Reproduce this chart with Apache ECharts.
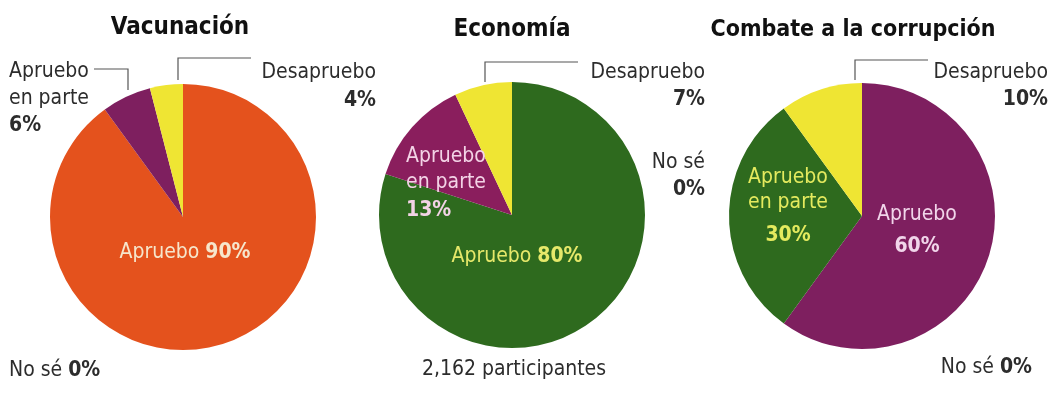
<!DOCTYPE html>
<html>
<head>
<meta charset="utf-8">
<script src="https://cdn.jsdelivr.net/npm/echarts@6/dist/echarts.min.js"></script>
<style>
html,body{margin:0;padding:0;background:#fff;}
#c{width:1052px;height:394px;}
</style>
</head>
<body>
<div id="c"></div>
<script>
const titles = ['Vacunación', 'Economía', 'Combate a la corrupción'];
const categories = ['Apruebo', 'No sé', 'Apruebo en parte', 'Desapruebo'];
const vacunacion = [90, 0, 6, 4];
const economia = [80, 0, 13, 7];
const combate = [60, 0, 30, 10];
const note = '2,162 participantes';

const C = {
  orange: '#E4521D', purple: '#7E1F5F', purple2: '#8A1E5D', yellow: '#EFE533',
  green: '#2E6A1E', blue: '#3A6FB0'
};
const pieColors = [
  [C.orange, C.blue, C.purple, C.yellow],
  [C.green, C.blue, C.purple2, C.yellow],
  [C.purple, C.blue, C.green, C.yellow]
];
const allData = [vacunacion, economia, combate];
const centers = [[183, 217], [512, 215], [862, 216]];
const R = 133;

const FONT = '"DejaVu Sans Condensed", "Liberation Sans Narrow", sans-serif';
const dark = '#2c2c2c';
const FS = 21;

function txt(x, y, text, opts) {
  opts = opts || {};
  return {
    type: 'text', x: x, y: y, silent: true, z: 10,
    style: {
      text: text, fill: opts.fill || dark,
      font: (opts.bold ? 'bold ' : '') + (opts.size || FS) + 'px ' + FONT,
      textAlign: opts.align || 'left', textVerticalAlign: 'middle'
    }
  };
}
function line(points) {
  return { type: 'polyline', silent: true, z: 10,
    shape: { points: points }, style: { stroke: '#555', lineWidth: 1.2, fill: null } };
}
function riched(x, y, name, val, color, size, align) {
  return {
    type: 'text', x: x, y: y, silent: true, z: 10,
    style: {
      text: '{a|' + name + ' }{b|' + val + '%}',
      rich: {
        a: { fill: color, font: size + 'px ' + FONT },
        b: { fill: color, font: 'bold ' + size + 'px ' + FONT }
      },
      textAlign: align, textVerticalAlign: 'middle'
    }
  };
}

const series = allData.map((vals, i) => ({
  type: 'pie',
  center: centers[i],
  radius: [0, R],
  startAngle: 90,
  clockwise: true,
  label: { show: false },
  labelLine: { show: false },
  emphasis: { disabled: true },
  silent: true,
  itemStyle: { borderWidth: 0 },
  data: categories.map((c, k) => ({ name: c, value: vals[k], itemStyle: { color: pieColors[i][k] } }))
}));

const g = [];
// titles
g.push(txt(180, 28, titles[0], { bold: true, size: 24, align: 'center', fill: '#111' }));
g.push(txt(512, 30, titles[1], { bold: true, size: 24, align: 'center', fill: '#111' }));
g.push(txt(853, 30, titles[2], { bold: true, size: 23, align: 'center', fill: '#111' }));

// Vacunación
g.push(txt(9, 72, 'Apruebo'));
g.push(txt(9, 99, 'en parte'));
g.push(txt(9, 126, vacunacion[2] + '%', { bold: true }));
g.push(txt(376, 73, categories[3], { align: 'right' }));
g.push(txt(376, 101, vacunacion[3] + '%', { bold: true, align: 'right' }));
g.push(riched(9, 371, categories[1], vacunacion[1], dark, FS, 'left'));
g.push(riched(185, 253, categories[0], vacunacion[0], '#F6E6CC', FS, 'center'));
g.push(line([[94, 69], [128, 69], [128, 90]]));
g.push(line([[251, 58], [178, 58], [178, 80]]));

// Economía
g.push(txt(705, 73, categories[3], { align: 'right' }));
g.push(txt(705, 100, economia[3] + '%', { bold: true, align: 'right' }));
g.push(txt(705, 163, categories[1], { align: 'right' }));
g.push(txt(705, 190, economia[1] + '%', { bold: true, align: 'right' }));
g.push(txt(406, 157, 'Apruebo', { fill: '#F3D3E6' }));
g.push(txt(406, 183, 'en parte', { fill: '#F3D3E6' }));
g.push(txt(406, 211, economia[2] + '%', { fill: '#F3D3E6', bold: true }));
g.push(riched(517, 257, categories[0], economia[0], '#E6E86A', FS, 'center'));
g.push(txt(514, 370, note, { align: 'center' }));
g.push(line([[578, 62], [485, 62], [485, 82]]));

// Combate
g.push(txt(1048, 73, categories[3], { align: 'right' }));
g.push(txt(1048, 100, combate[3] + '%', { bold: true, align: 'right' }));
g.push(riched(1032, 368, categories[1], combate[1], dark, FS, 'right'));
g.push(txt(788, 178, 'Apruebo', { fill: '#E4EA5E', align: 'center' }));
g.push(txt(788, 203, 'en parte', { fill: '#E4EA5E', align: 'center' }));
g.push(txt(788, 236, combate[2] + '%', { fill: '#E4EA5E', bold: true, align: 'center' }));
g.push(txt(917, 215, categories[0], { fill: '#F1D5EA', align: 'center' }));
g.push(txt(917, 247, combate[0] + '%', { fill: '#F1D5EA', bold: true, align: 'center' }));
g.push(line([[928, 60], [855, 60], [855, 80]]));

const chart = echarts.init(document.getElementById('c'), null, { renderer: 'canvas' });
chart.setOption({
  backgroundColor: '#fff',
  animation: false,
  series: series,
  graphic: g
});
</script>
</body>
</html>
